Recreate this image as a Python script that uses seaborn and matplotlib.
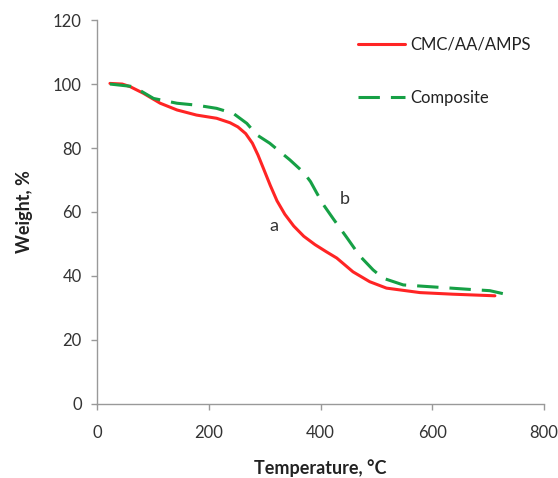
import numpy as np
import pandas as pd
import matplotlib
matplotlib.use("Agg")
import matplotlib.pyplot as plt
import seaborn as sns

# Data
temp_cmc = [23, 45, 59, 83, 113, 143, 178, 214, 238, 252, 266, 278, 288, 298, 310, 322, 336, 352, 370, 390, 410, 429, 458, 488, 518, 578, 637, 712]
weight_cmc = [100.2, 100.0, 99.2, 97.1, 94.0, 91.9, 90.3, 89.3, 87.9, 86.6, 84.5, 81.5, 77.8, 73.5, 68.3, 63.5, 59.3, 55.6, 52.4, 49.8, 47.6, 45.6, 41.3, 38.2, 36.2, 34.8, 34.3, 33.8]
temp_comp = [23, 65, 101, 143, 178, 214, 244, 268, 286, 309, 345, 370, 382, 393, 405, 423, 447, 470, 494, 512, 548, 608, 667, 703, 736]
weight_comp = [100.0, 99.2, 95.5, 94.0, 93.4, 92.4, 90.8, 87.7, 84.1, 81.5, 76.3, 72.3, 69.5, 66.0, 62.3, 57.8, 52.0, 46.3, 41.9, 39.3, 37.2, 36.5, 35.8, 35.4, 34.1]
series_names = ["CMC/AA/AMPS", "Composite"]
x_ticks = [0, 200, 400, 600, 800]
y_ticks = [0, 20, 40, 60, 80, 100, 120]

df = pd.concat([
    pd.DataFrame({"Temperature": temp_cmc, "Weight": weight_cmc, "Sample": series_names[0]}),
    pd.DataFrame({"Temperature": temp_comp, "Weight": weight_comp, "Sample": series_names[1]}),
], ignore_index=True)

sns.set_style("ticks")
plt.rcParams["font.family"] = ["Lato", "DejaVu Sans"]

fig = plt.figure(figsize=(5.58, 4.78), dpi=100)
ax = fig.add_axes([0.174, 0.155, 0.801, 0.803])

palette = {series_names[0]: "#ff2424", series_names[1]: "#16a045"}
dashes = {series_names[0]: "", series_names[1]: (7, 3.6)}
sns.lineplot(data=df, x="Temperature", y="Weight", hue="Sample", style="Sample",
             palette=palette, dashes=dashes, sort=False, estimator=None,
             linewidth=2.2, ax=ax)
for ln in ax.get_lines():
    ln.set_solid_joinstyle("round")
    ln.set_dash_joinstyle("round")

ax.set_xlim(0, 800)
ax.set_ylim(0, 120)
ax.set_xticks(x_ticks)
ax.set_yticks(y_ticks)
ax.tick_params(axis="both", labelsize=12, colors="#333333", length=4, width=1, color="#999999")
ax.tick_params(axis="x", pad=11)
ax.tick_params(axis="y", pad=7)
for s in ["top", "right"]:
    ax.spines[s].set_visible(False)
for s in ["left", "bottom"]:
    ax.spines[s].set_color("#999999")
    ax.spines[s].set_linewidth(1)

ax.set_xlabel("Temperature, °C", fontsize=13, fontweight="bold", color="#222222", labelpad=13)
ax.set_ylabel("Weight, %", fontsize=13, fontweight="bold", color="#222222", labelpad=14)

ax.text(316, 55.5, "a", fontsize=13, color="#333333", ha="center", va="center")
ax.text(444, 64, "b", fontsize=13, color="#333333", ha="center", va="center")

leg = ax.legend(loc="upper left", bbox_to_anchor=(0.584, 0.957), frameon=False, fontsize=12,
                handlelength=2.8, handletextpad=0.3, labelspacing=2.25,
                borderpad=0, borderaxespad=0)
for t in leg.get_texts():
    t.set_color("#222222")

fig.savefig("out.png", dpi=100)
